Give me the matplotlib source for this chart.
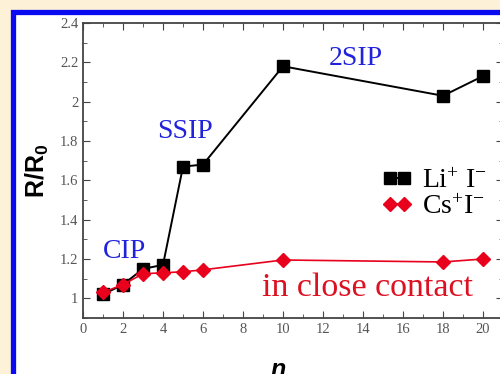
import matplotlib
matplotlib.use("Agg")
import matplotlib.pyplot as plt
from matplotlib.patches import Rectangle

# data
n_li = [1, 2, 3, 4, 5, 6, 10, 18, 20]
r_li = [1.02, 1.07, 1.15, 1.17, 1.67, 1.68, 2.18, 2.03, 2.13]
n_cs = [1, 2, 3, 4, 5, 6, 10, 18, 20]
r_cs = [1.03, 1.07, 1.125, 1.13, 1.135, 1.145, 1.195, 1.185, 1.20]

plt.rcParams["mathtext.fontset"] = "custom"
plt.rcParams["mathtext.rm"] = "Liberation Serif"
plt.rcParams["mathtext.it"] = "Liberation Serif:italic"
plt.rcParams["mathtext.bf"] = "Liberation Sans:bold"

fig = plt.figure(figsize=(5, 3.74), dpi=100, facecolor="#fdf1d8")
fig.patches.append(Rectangle((0.025, -0.2), 1.2, 1.1666, transform=fig.transFigure,
                             facecolor="white", edgecolor="#0a0af0", linewidth=3.8, zorder=-10))
ax = fig.add_axes([0.166, 0.1497, 0.84, 0.7888])
ax.set_facecolor("none")

ax.plot(n_li, r_li, color="black", marker="s", markersize=9, linewidth=1.4,
        label=r"Li$^{+}$ I$^{-}$", zorder=3)
ax.plot(n_cs, r_cs, color="#e8001c", marker="D", markersize=7.5, linewidth=1.2,
        label=r"Cs$^{+}$I$^{-}$", zorder=4)

ax.set_xlim(0, 21)
ax.set_ylim(0.9, 2.4)
ax.set_xticks([0, 2, 4, 6, 8, 10, 12, 14, 16, 18, 20])
ax.set_xticks(range(0, 22), minor=True)
ax.set_yticks([1, 1.2, 1.4, 1.6, 1.8, 2, 2.2, 2.4])
ax.set_yticklabels(["1", "1.2", "1.4", "1.6", "1.8", "2", "2.2", "2.4"])
ax.set_yticks([0.9 + 0.1 * i for i in range(16)], minor=True)
ax.tick_params(which="both", direction="in", top=True, right=True, colors="#444444",
               labelcolor="#555555", labelsize=10.5)
ax.tick_params(which="major", length=5)
ax.tick_params(which="minor", length=3)
for lab in ax.get_xticklabels() + ax.get_yticklabels():
    lab.set_fontfamily("Liberation Serif")
for s in ax.spines.values():
    s.set_color("#444444")
    s.set_linewidth(1.3)

ax.set_ylabel(r"$\mathbf{R/R_0}$", fontsize=18, labelpad=6)
ax.set_xlabel("n", fontsize=18, fontweight="bold", fontstyle="italic",
              fontfamily="Liberation Sans")
ax.xaxis.set_label_coords(0.465, -0.135)

ax.text(2.05, 1.24, "CIP", color="#2222dd", fontsize=20, fontfamily="Liberation Serif",
        ha="center", va="center")
ax.text(5.1, 1.85, "SSIP", color="#2222dd", fontsize=20, fontfamily="Liberation Serif",
        ha="center", va="center")
ax.text(13.65, 2.22, "2SIP", color="#2222dd", fontsize=20, fontfamily="Liberation Serif",
        ha="center", va="center")
ax.text(14.2, 1.055, "in close contact", color="#dd1122", fontsize=24.5,
        fontfamily="Liberation Serif", ha="center", va="center")

ax.legend(loc="center left", bbox_to_anchor=(0.712, 0.42), frameon=False,
          prop={"family": "Liberation Serif", "size": 20},
          handlelength=1.1, handletextpad=0.35, labelspacing=0.0, numpoints=2,
          borderaxespad=0, borderpad=0)

fig.savefig("out.png", dpi=100, facecolor=fig.get_facecolor())
